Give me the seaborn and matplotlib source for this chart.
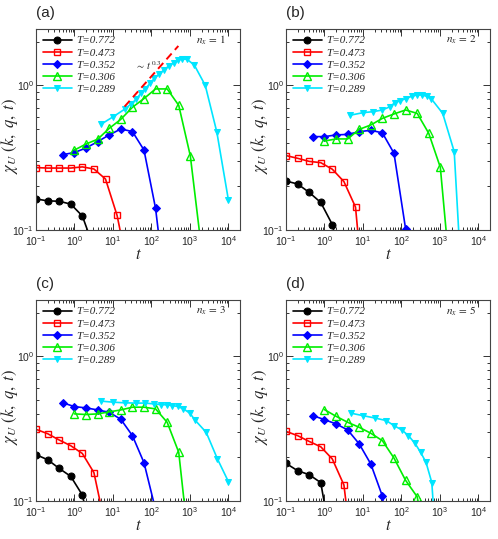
import numpy as np
import matplotlib
matplotlib.use("Agg")
import matplotlib.pyplot as plt
import matplotlib.ticker as mticker
import seaborn as sns

# ---------------- data ----------------
series_labels = ["T=0.772", "T=0.473", "T=0.352", "T=0.306", "T=0.289"]
panel_letters = ["(a)", "(b)", "(c)", "(d)"]
nx_labels = ["1", "2", "3", "5"]

# panel (a), n_x = 1
a_t_black = [0.1, 0.2, 0.4, 0.8, 1.6, 3.2]
a_y_black = [0.164, 0.159, 0.158, 0.151, 0.125, 0.075]
a_t_red = [0.1, 0.2, 0.4, 0.8, 1.6, 3.2, 6.4, 12.8, 25.6]
a_y_red = [0.270, 0.268, 0.268, 0.268, 0.273, 0.264, 0.225, 0.126, 0.051]
a_t_blue = [0.5, 1, 2, 4, 8, 16, 32, 64, 128, 256]
a_y_blue = [0.332, 0.343, 0.369, 0.408, 0.454, 0.499, 0.479, 0.357, 0.141, 0.03]
a_t_green = [1, 2, 4, 8, 16, 32, 64, 128, 256, 512, 1024, 2048]
a_y_green = [0.357, 0.393, 0.424, 0.504, 0.582, 0.705, 0.81, 0.944, 0.944, 0.727, 0.325, 0.07]
a_t_cyan = [5, 10, 20, 30, 40, 53, 70, 92, 120, 160, 215, 290, 380, 500, 640, 850,
            1300, 2500, 5000, 10000]
a_y_cyan = [0.54, 0.605, 0.683, 0.746, 0.80, 0.88, 0.95, 1.03, 1.12, 1.20, 1.28, 1.37,
            1.43, 1.50, 1.52, 1.51, 1.38, 1.0, 0.475, 0.161]

# panel (b), n_x = 2
b_t_black = [0.1, 0.2, 0.4, 0.8, 1.6, 3.2]
b_y_black = [0.218, 0.208, 0.182, 0.155, 0.109, 0.05]
b_t_red = [0.1, 0.2, 0.4, 0.8, 1.6, 3.2, 6.4, 12.8]
b_y_red = [0.327, 0.313, 0.298, 0.292, 0.263, 0.216, 0.144, 0.02]
b_t_blue = [0.5, 1, 2, 4, 8, 16, 32, 64, 128, 256]
b_y_blue = [0.442, 0.442, 0.454, 0.458, 0.478, 0.489, 0.469, 0.339, 0.102, 0.01]
b_t_green = [1, 2, 4, 8, 16, 32, 64, 128, 256, 512, 1024, 2048]
b_y_green = [0.412, 0.426, 0.426, 0.496, 0.532, 0.591, 0.634, 0.675, 0.640, 0.466, 0.271, 0.036]
b_t_cyan = [4.5, 10, 18, 32, 50, 68, 91, 131, 185, 250, 340, 455, 590, 1180, 2350, 5000]
b_y_cyan = [0.62, 0.647, 0.657, 0.675, 0.711, 0.76, 0.78, 0.81, 0.84, 0.857, 0.857,
            0.84, 0.81, 0.64, 0.348, 0.01]

# panel (c), n_x = 3
c_t_black = [0.1, 0.2, 0.4, 0.8, 1.6, 3.2]
c_y_black = [0.209, 0.193, 0.168, 0.148, 0.110, 0.05]
c_t_red = [0.1, 0.2, 0.4, 0.8, 1.6, 3.2, 6.4]
c_y_red = [0.313, 0.292, 0.264, 0.241, 0.213, 0.157, 0.066]
c_t_blue = [0.5, 1, 2, 4, 8, 16, 32, 64, 128]
c_y_blue = [0.477, 0.449, 0.440, 0.426, 0.410, 0.367, 0.283, 0.184, 0.087]
c_t_green = [1, 2, 4, 8, 16, 32, 64, 128, 256, 512, 1024]
c_y_green = [0.400, 0.396, 0.400, 0.413, 0.426, 0.445, 0.445, 0.433, 0.350, 0.217, 0.04]
c_t_cyan = [5, 10, 20, 40, 68, 118, 176, 250, 350, 480, 675, 1000, 1350, 2650, 5200, 10000]
c_y_cyan = [0.49, 0.482, 0.477, 0.475, 0.475, 0.469, 0.464, 0.462, 0.457, 0.45, 0.434,
            0.404, 0.363, 0.298, 0.195, 0.136]

# panel (d), n_x = 5
d_t_black = [0.1, 0.2, 0.4, 0.8, 1.6]
d_y_black = [0.182, 0.162, 0.152, 0.134, 0.047]
d_t_red = [0.1, 0.2, 0.4, 0.8, 1.6, 3.2, 6.4]
d_y_red = [0.303, 0.283, 0.258, 0.237, 0.195, 0.129, 0.028]
d_t_blue = [0.5, 1, 2, 4, 8, 16, 32, 64]
d_y_blue = [0.389, 0.365, 0.341, 0.31, 0.248, 0.18, 0.108, 0.02]
d_t_green = [1, 2, 4, 8, 16, 32, 64, 128, 256, 512]
d_y_green = [0.428, 0.385, 0.35, 0.323, 0.294, 0.261, 0.198, 0.139, 0.107, 0.04]
d_t_cyan = [5, 10, 20, 40, 64, 102, 152, 225, 315, 435, 615, 900]
d_y_cyan = [0.404, 0.389, 0.375, 0.36, 0.332, 0.31, 0.283, 0.25, 0.217, 0.185, 0.134, 0.03]

# power-law guide in panel (a): ~ t^0.3
guide_t = [20, 500]
guide_amp = 0.29
guide_exp = 0.3

panels = [
    [(a_t_black, a_y_black), (a_t_red, a_y_red), (a_t_blue, a_y_blue),
     (a_t_green, a_y_green), (a_t_cyan, a_y_cyan)],
    [(b_t_black, b_y_black), (b_t_red, b_y_red), (b_t_blue, b_y_blue),
     (b_t_green, b_y_green), (b_t_cyan, b_y_cyan)],
    [(c_t_black, c_y_black), (c_t_red, c_y_red), (c_t_blue, c_y_blue),
     (c_t_green, c_y_green), (c_t_cyan, c_y_cyan)],
    [(d_t_black, d_y_black), (d_t_red, d_y_red), (d_t_blue, d_y_blue),
     (d_t_green, d_y_green), (d_t_cyan, d_y_cyan)],
]

# ---------------- style ----------------
sns.set_style("ticks")
plt.rcParams["font.family"] = ["Liberation Serif", "DejaVu Serif"]
plt.rcParams["mathtext.fontset"] = "stix"

colors = ["black", "#ff0000", "#0000ff", "#00ee00", "#00e5ff"]
styles = [
    dict(marker="o", markersize=5.0, markerfacecolor="black", markeredgecolor="black"),
    dict(marker="s", markersize=4.6, markerfacecolor="none", markeredgecolor="#ff0000",
         markeredgewidth=1.0),
    dict(marker="D", markersize=3.8, markerfacecolor="#0000ff", markeredgecolor="#0000ff"),
    dict(marker="^", markersize=6.0, markerfacecolor="none", markeredgecolor="#00ee00",
         markeredgewidth=1.0),
    dict(marker="v", markersize=5.0, markerfacecolor="#00e5ff", markeredgecolor="#00e5ff"),
]

fig = plt.figure(figsize=(4.98, 5.39), dpi=100)
W, H = 498.0, 539.0
boxes = [(36, 29), (286, 29), (36, 300), (286, 300)]  # left, top in pixels
aw, ah = 204, 201

for i, (left, top) in enumerate(boxes):
    ax = fig.add_axes([left / W, 1 - (top + ah) / H, aw / W, ah / H])
    for j, (tt, yy) in enumerate(panels[i]):
        sns.lineplot(x=tt, y=yy, ax=ax, color=colors[j], linewidth=1.2,
                     sort=False, estimator=None, label=series_labels[j], **styles[j])
    if i == 0:
        gt = np.array(guide_t, dtype=float)
        sns.lineplot(x=gt, y=guide_amp * gt ** guide_exp, ax=ax, color="#ff0000",
                     linewidth=1.4, linestyle=(0, (4, 2.5)), label="_nolegend_")
        ax.text(38, 1.36, r"$\sim\, t^{\,0.3}$", fontsize=7.5, ha="left", va="center")
    ax.set_xscale("log")
    ax.set_yscale("log")
    ax.set_xlim(0.1, 2.0e4)
    ax.set_ylim(0.1, 2.45)
    ax.xaxis.set_major_locator(mticker.LogLocator(base=10, numticks=10))
    ax.xaxis.set_minor_locator(mticker.LogLocator(base=10, subs=np.arange(2, 10), numticks=20))
    ax.yaxis.set_major_locator(mticker.LogLocator(base=10, numticks=10))
    ax.yaxis.set_minor_locator(mticker.LogLocator(base=10, subs=np.arange(2, 10), numticks=20))
    ax.xaxis.set_minor_formatter(mticker.NullFormatter())
    ax.yaxis.set_minor_formatter(mticker.NullFormatter())
    ax.tick_params(which="both", direction="in", top=True, right=True, labelsize=7.5,
                   labelfontfamily="Liberation Sans", width=0.7, color="#333333")
    ax.tick_params(which="major", length=5)
    ax.tick_params(which="minor", length=2.5)
    ax.tick_params(axis="x", which="major", pad=3)
    ax.tick_params(axis="y", which="major", pad=1.5)
    for s in ax.spines.values():
        s.set_linewidth(0.8)
        s.set_color("#444444")
    ax.set_xlabel(r"$t$", fontsize=12, va="center")
    ax.xaxis.set_label_coords(0.5, -0.124)
    ax.set_ylabel(r"$\chi_U\ (k,\ q,\ t)$", fontsize=12)
    ax.yaxis.set_label_coords(-0.078, 0.47)
    ax.legend(loc="upper left", bbox_to_anchor=(0.0, 1.0), frameon=False,
              prop=dict(family="Liberation Serif", style="italic", size=8),
              handlelength=2.6, handletextpad=0.4, labelspacing=0.22,
              borderaxespad=0.3, borderpad=0.3)
    ax.text(0.785, 0.945, r"$n_x\, =\, $" + r"$" + nx_labels[i] + r"$", transform=ax.transAxes,
            fontsize=8, ha="left", va="center")
    ax.text(0.0, 1.08, panel_letters[i], transform=ax.transAxes, fontsize=11,
            family="Liberation Sans", ha="left", va="center")

fig.savefig("out.png", dpi=100)
